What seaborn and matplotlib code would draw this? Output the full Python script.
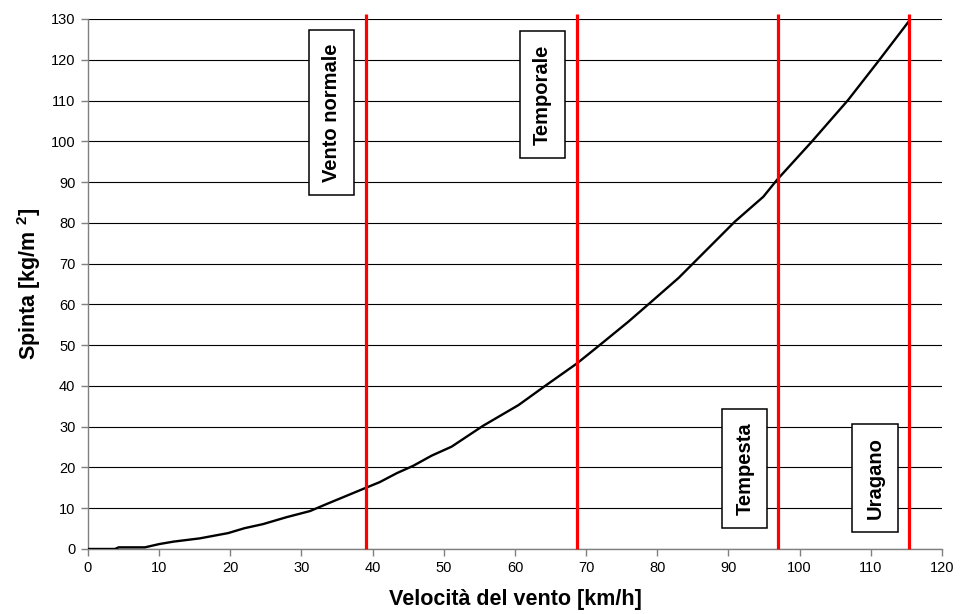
import matplotlib
matplotlib.use('Agg')
import matplotlib.pyplot as plt
import seaborn as sns
import pandas as pd

# Velocità del vento [km/h] vs spinta [kg/m^2]
velocita = [0, 3.8, 4.3, 8, 10, 12, 15.7, 19.7, 22, 24.6, 27.9, 31.2, 33.5, 38.9,
            41, 43.4, 45.7, 48.3, 51.1, 55.5, 60.5, 64.4, 68.7, 71.9, 75.9, 79.2,
            83, 90.9, 94.9, 96.8, 101.7, 106.8, 111, 115.6]
spinta = [0, 0, 0.4, 0.4, 1.2, 1.8, 2.6, 3.9, 5.1, 6.1, 7.8, 9.3, 11, 14.9,
          16.4, 18.6, 20.4, 22.9, 25.1, 30.2, 35.3, 40.2, 45.5, 50, 55.7, 60.7,
          66.5, 80.3, 86.4, 90.5, 99.9, 110.1, 119.5, 130]

# wind classes: threshold speed and label
soglie = [39, 68.7, 97, 115.3]
classi = ['Vento normale', 'Temporale', 'Tempesta', 'Uragano']
label_x = [34.2, 63.9, 92.3, 110.6]
label_y = [107.1, 111.5, 19.7, 17.5]

df = pd.DataFrame({'v': velocita, 'p': spinta})

sns.set_style('white')
plt.rcParams['font.family'] = ['Liberation Sans', 'DejaVu Sans']
plt.rcParams['text.color'] = 'black'
plt.rcParams['axes.labelcolor'] = 'black'
plt.rcParams['mathtext.fontset'] = 'custom'
plt.rcParams['mathtext.rm'] = 'Liberation Sans'
plt.rcParams['mathtext.bf'] = 'Liberation Sans:bold'

fig = plt.figure(figsize=(9.68, 6.14), dpi=100)
ax = fig.add_axes([0.0909, 0.1059, 0.8822, 0.8632])

ax.set_xlim(0, 120)
ax.set_ylim(0, 130)
ax.set_xticks(range(0, 121, 10))
ax.set_yticks(range(0, 131, 10))
ax.yaxis.grid(True, color='black', lw=0.8)
ax.xaxis.grid(False)

sns.lineplot(data=df, x='v', y='p', sort=False, color='black', lw=1.7, ax=ax, zorder=3)

ax.vlines(soglie, 0, 131.2, colors='#ff0000', lw=2.3, clip_on=False, zorder=4)

for x, y, t in zip(label_x, label_y, classi):
    ax.text(x, y, t, rotation=90, ha='center', va='center', fontsize=14.5,
            fontweight='bold', color='black', zorder=5,
            bbox=dict(boxstyle='square,pad=0.65', fc='white', ec='black', lw=1.1))

for s in ['top', 'right']:
    ax.spines[s].set_visible(False)
for s in ['left', 'bottom']:
    ax.spines[s].set_color('#808080')
    ax.spines[s].set_linewidth(1.0)
ax.tick_params(axis='both', direction='out', length=5, width=1, color='#808080',
               labelsize=10.5, labelcolor='black', pad=4, left=True, bottom=True)

ax.set_xlabel('Velocità del vento [km/h]', fontsize=15.5, fontweight='bold', labelpad=10)
ax.set_ylabel(r'Spinta [kg/m $\mathbf{^2}$]', fontsize=15.5, fontweight='bold', labelpad=6)

fig.savefig('out.png', dpi=100)
